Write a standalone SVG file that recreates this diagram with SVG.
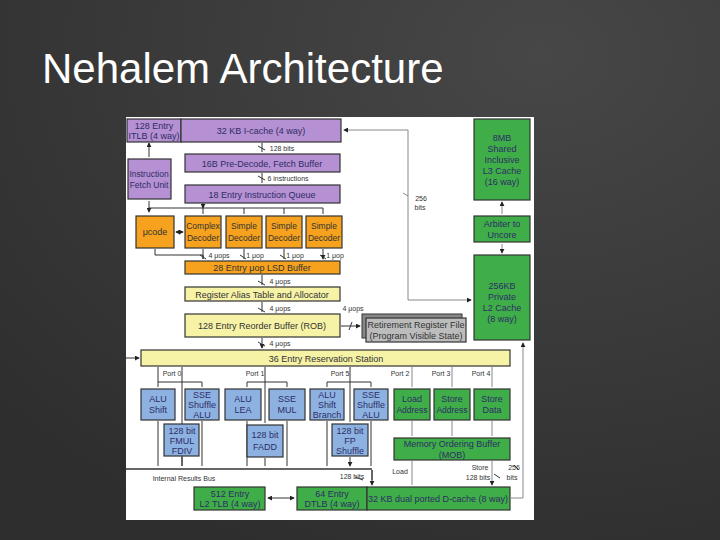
<svg xmlns="http://www.w3.org/2000/svg" width="720" height="540" viewBox="0 0 720 540">
<defs>
<marker id="a" viewBox="0 0 6 6" refX="5" refY="3" markerWidth="5" markerHeight="5" orient="auto-start-reverse"><path d="M0,0L6,3L0,6z" fill="#222"/></marker>
<radialGradient id="bg" cx="0.75" cy="0.1" r="1"><stop offset="0" stop-color="#474747"/><stop offset="1" stop-color="#2e2e2e"/></radialGradient>
</defs>
<style>
.b{stroke:#333;stroke-width:1.2}
.p{fill:#b590d2}.o{fill:#f6a21e}.y{fill:#f6f2a6}.g{fill:#3fae48}.u{fill:#8db2e2}.r{fill:#bcbcbc}
text{font-family:"Liberation Sans",Arial,sans-serif;text-anchor:middle}
.t{font-size:9px;fill:#333}.d{font-size:8.5px}.s{font-size:7px;fill:#333}
.w{fill:#2d2d66}
.c{fill:none;stroke:#333;stroke-width:1}
.c2{fill:none;stroke:#888;stroke-width:1}
</style>
<rect width="720" height="540" fill="url(#bg)"/>
<text x="42" y="83" style="font-size:42px;fill:#fff;text-anchor:start">Nehalem Architecture</text>
<rect x="126" y="117" width="408" height="403" fill="#fff"/>
<g id="connectors">
<path class="c" d="M149,143V157M149,201V212" marker-start="url(#a)" marker-end="url(#a)"/>
<path class="c" d="M149,208H323M203,208V214M244,208V214M284,208V214M323,208V214M203,203V208" marker-end="url(#a)"/>
<path class="c" d="M262,143V152M262,173V183M262,275V285M262,302V312M262,338V348" marker-end="url(#a)"/>
<path class="c" d="M176,232H183" marker-start="url(#a)" marker-end="url(#a)"/>
<path class="c" d="M155,249V255H203V259M203,249V259M244,249V259M284,249V259M323,249V259" marker-end="url(#a)"/>
<path class="c2" d="M408,130H344" marker-end="url(#a)"/>
<path class="c2" d="M408,130V300H471" marker-end="url(#a)"/>
<path class="c2" d="M502,202V214M502,244V253" marker-start="url(#a)" marker-end="url(#a)"/>
<path class="c2" d="M511,498H523V343" marker-end="url(#a)"/>
<path class="c" d="M341,326H360" marker-end="url(#a)"/>
<path class="c" d="M126,358H139" marker-end="url(#a)"/>
<path class="c" d="M158,367V382M158,382V387M202,382V387M158,382H202M182,367V466M247,382V387M287,382V387M247,382H287M265,367V423M327,382V387M371,382V387M327,382H371M350,367V422M158,421V466M202,421V466M247,421V466M287,421V466M327,421V466M371,421V466M182,457V466M265,458V466M350,457V466" marker-end="url(#a)"/>
<path class="c2" d="M412,367V387M452,367V387M492,367V387M412,421V436M452,421V436M492,421V436M412,461V485M492,461V485" marker-end="url(#a)"/>
<path d="M126,469H372" stroke="#333" stroke-width="1.5"/>
<path class="c" d="M372,480V470M372,470V485" marker-end="url(#a)"/>
<path class="c" d="M268,498H294" marker-start="url(#a)" marker-end="url(#a)"/>
<path class="c" d="M258,146l7,4M258,176l7,4M240,255l6,4M280,255l6,4M320,255l6,4M200,255l6,4M258,281l7,4M258,308l7,4M258,342l7,4M352,322l-3,8M355,477l8,3M494,474l6,4M514,465l5,5"/>
<path class="c2" d="M403,193l5,3"/>
</g>
<g id="itlb"><rect class="b p" x="127" y="119" width="54" height="23"/><text class="t w" x="154" y="129">128 Entry</text><text class="t w" x="154" y="139">ITLB (4 way)</text></g>
<g id="icache"><rect class="b p" x="181" y="119" width="160" height="23"/><text class="t w" x="261" y="134">32 KB I-cache (4 way)</text></g>
<text class="s" x="282" y="151">128 bits</text>
<g id="predecode"><rect class="b p" x="185" y="154" width="155" height="18"/><text class="t w" x="262" y="167">16B Pre-Decode, Fetch Buffer</text></g>
<text class="s" x="288" y="181">6 instructions</text>
<g id="ifu"><rect class="b p" x="128" y="159" width="43" height="40"/><text class="t w d" x="149" y="177">Instruction</text><text class="t w d" x="149" y="188">Fetch Unit</text></g>
<g id="iq"><rect class="b p" x="185" y="185" width="155" height="18"/><text class="t w" x="262" y="198">18 Entry Instruction Queue</text></g>
<g id="ucode"><rect class="b o" x="136" y="216" width="38" height="32"/><text class="t" x="155" y="235">μcode</text></g>
<g id="dec0"><rect class="b o" x="185" y="216" width="36" height="32"/><text class="t d" x="203" y="229">Complex</text><text class="t d" x="203" y="241">Decoder</text></g>
<g id="dec1"><rect class="b o" x="226" y="216" width="36" height="32"/><text class="t d" x="244" y="229">Simple</text><text class="t d" x="244" y="241">Decoder</text></g>
<g id="dec2"><rect class="b o" x="266" y="216" width="36" height="32"/><text class="t d" x="284" y="229">Simple</text><text class="t d" x="284" y="241">Decoder</text></g>
<g id="dec3"><rect class="b o" x="306" y="216" width="36" height="32"/><text class="t d" x="324" y="229">Simple</text><text class="t d" x="324" y="241">Decoder</text></g>
<text class="s" x="219" y="258">4 μops</text><text class="s" x="255" y="258">1 μop</text><text class="s" x="295" y="258">1 μop</text><text class="s" x="335" y="258">1 μop</text>
<g id="lsd"><rect class="b o" x="185" y="261" width="155" height="13"/><text class="t" x="262" y="271">28 Entry μop LSD Buffer</text></g>
<text class="s" x="280" y="284">4 μops</text>
<g id="rat"><rect class="b y" x="185" y="287" width="155" height="14"/><text class="t" x="262" y="298">Register Alias Table and Allocator</text></g>
<text class="s" x="280" y="311">4 μops</text><text class="s" x="353" y="311">4 μops</text>
<g id="rob"><rect class="b y" x="185" y="314" width="155" height="23"/><text class="t" x="262" y="329">128 Entry Reorder Buffer (ROB)</text></g>
<g id="rrf"><rect x="362" y="314" width="100" height="24" fill="#888" stroke="#333"/><rect class="b r" x="366" y="318" width="100" height="24"/><text class="t" x="416" y="328">Retirement Register File</text><text class="t" x="416" y="339">(Program Visible State)</text></g>
<text class="s" x="280" y="346">4 μops</text>
<g id="rs"><rect class="b y" x="141" y="350" width="369" height="16"/><text class="t" x="326" y="362">36 Entry Reservation Station</text></g>
<text class="s" x="172" y="376">Port 0</text><text class="s" x="255" y="376">Port 1</text><text class="s" x="340" y="376">Port 5</text><text class="s" x="400" y="376">Port 2</text><text class="s" x="441" y="376">Port 3</text><text class="s" x="481" y="376">Port 4</text>
<g id="alu0"><rect class="b u" x="141" y="389" width="34" height="31"/><text class="t w" x="158" y="402">ALU</text><text class="t w" x="158" y="413">Shift</text></g>
<g id="sse0"><rect class="b u" x="185" y="389" width="34" height="31"/><text class="t w" x="202" y="398">SSE</text><text class="t w" x="202" y="408">Shuffle</text><text class="t w" x="202" y="418">ALU</text></g>
<g id="alu1"><rect class="b u" x="225" y="389" width="36" height="31"/><text class="t w" x="243" y="402">ALU</text><text class="t w" x="243" y="413">LEA</text></g>
<g id="ssemul"><rect class="b u" x="269" y="389" width="36" height="31"/><text class="t w" x="287" y="402">SSE</text><text class="t w" x="287" y="413">MUL</text></g>
<g id="alu5"><rect class="b u" x="310" y="389" width="34" height="31"/><text class="t w" x="327" y="398">ALU</text><text class="t w" x="327" y="408">Shift</text><text class="t w" x="327" y="418">Branch</text></g>
<g id="sse5"><rect class="b u" x="354" y="389" width="34" height="31"/><text class="t w" x="371" y="398">SSE</text><text class="t w" x="371" y="408">Shuffle</text><text class="t w" x="371" y="418">ALU</text></g>
<g id="fmul"><rect class="b u" x="164" y="424" width="35" height="32"/><text class="t w" x="182" y="434">128 bit</text><text class="t w" x="182" y="444">FMUL</text><text class="t w" x="182" y="454">FDIV</text></g>
<g id="fadd"><rect class="b u" x="247" y="425" width="36" height="32"/><text class="t w" x="265" y="438">128 bit</text><text class="t w" x="265" y="450">FADD</text></g>
<g id="fpsh"><rect class="b u" x="332" y="424" width="36" height="32"/><text class="t w" x="350" y="434">128 bit</text><text class="t w" x="350" y="444">FP</text><text class="t w" x="350" y="454">Shuffle</text></g>
<g id="ld"><rect class="b g" x="394" y="389" width="36" height="31"/><text class="t w" x="412" y="402">Load</text><text class="t w d" x="412" y="413">Address</text></g>
<g id="sta"><rect class="b g" x="434" y="389" width="36" height="31"/><text class="t w" x="452" y="402">Store</text><text class="t w d" x="452" y="413">Address</text></g>
<g id="std"><rect class="b g" x="474" y="389" width="36" height="31"/><text class="t w" x="492" y="402">Store</text><text class="t w" x="492" y="413">Data</text></g>
<g id="mob"><rect class="b g" x="394" y="438" width="116" height="22"/><text class="t w" x="452" y="447">Memory Ordering Buffer</text><text class="t w" x="452" y="458">(MOB)</text></g>
<text class="s" x="184" y="481">Internal Results Bus</text>
<text class="s" x="352" y="479">128 bits</text><text class="s" x="400" y="474">Load</text>
<text class="s" x="480" y="470">Store</text><text class="s" x="478" y="480">128 bits</text>
<text class="s" x="514" y="470">256</text><text class="s" x="512" y="480">bits</text>
<g id="l2tlb"><rect class="b g" x="194" y="487" width="71" height="23"/><text class="t w" x="230" y="497">512 Entry</text><text class="t w" x="230" y="507">L2 TLB (4 way)</text></g>
<g id="dtlb"><rect class="b g" x="297" y="487" width="70" height="23"/><text class="t w" x="332" y="497">64 Entry</text><text class="t w" x="332" y="507">DTLB (4 way)</text></g>
<g id="dcache"><rect class="b g" x="367" y="487" width="143" height="23"/><text class="t w" x="438" y="502">32 KB dual ported D-cache (8 way)</text></g>
<g id="l3"><rect class="b g" x="474" y="119" width="56" height="81"/><text class="t w" x="502" y="141">8MB</text><text class="t w" x="502" y="152">Shared</text><text class="t w" x="502" y="163">Inclusive</text><text class="t w" x="502" y="174">L3 Cache</text><text class="t w" x="502" y="185">(16 way)</text></g>
<g id="arb"><rect class="b g" x="474" y="216" width="56" height="26"/><text class="t w" x="502" y="227">Arbiter to</text><text class="t w" x="502" y="238">Uncore</text></g>
<g id="l2"><rect class="b g" x="474" y="255" width="56" height="85"/><text class="t w" x="502" y="289">256KB</text><text class="t w" x="502" y="300">Private</text><text class="t w" x="502" y="311">L2 Cache</text><text class="t w" x="502" y="322">(8 way)</text></g>
<text class="s" x="421" y="201">256</text><text class="s" x="420" y="210">bits</text>
</svg>
